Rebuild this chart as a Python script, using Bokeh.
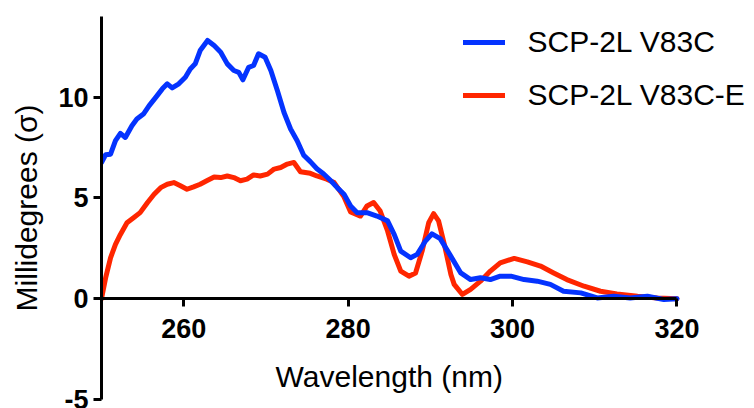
from bokeh.plotting import figure
from bokeh.models import Range1d, FixedTicker, Legend, LegendItem, Label
from bokeh.embed import file_html
from bokeh.resources import INLINE

# Data
blue_x = [250.0, 250.5, 251.1, 251.7, 252.3, 252.9, 253.7, 254.3, 255.1, 255.8,
          256.6, 257.4, 258.0, 258.6, 259.4, 260.2, 260.8, 261.4, 262.0, 262.9,
          263.7, 264.5, 265.3, 266.1, 266.7, 267.2, 267.9, 268.5, 269.1, 269.9,
          270.6, 271.4, 272.2, 273.0, 273.8, 274.6, 275.4, 276.2, 277.0, 277.9,
          278.7, 279.5, 280.3, 281.1, 282.3, 283.5, 284.8, 285.6, 286.4, 287.6,
          288.4, 289.4, 290.2, 291.2, 292.5, 293.7, 294.9, 296.1, 297.3, 298.5,
          299.8, 301.4, 303.0, 304.6, 306.2, 308.3, 310.3, 312.3, 314.3, 316.4,
          318.4, 320.0]
blue_y = [6.76, 7.14, 7.17, 7.84, 8.20, 8.00, 8.58, 8.91, 9.16, 9.58,
          9.99, 10.41, 10.66, 10.46, 10.66, 10.99, 11.40, 11.65, 12.31, 12.81,
          12.56, 12.23, 11.65, 11.32, 11.23, 10.86, 11.48, 11.57, 12.15, 11.98,
          11.32, 10.32, 9.24, 8.42, 7.84, 7.12, 6.80, 6.45, 6.20, 5.85,
          5.50, 5.18, 4.60, 4.27, 4.27, 4.10, 3.86, 3.19, 2.36, 2.03,
          2.20, 2.86, 3.22, 2.98, 2.10, 1.28, 0.95, 1.04, 0.95, 1.12,
          1.12, 0.95, 0.87, 0.71, 0.37, 0.29, 0.04, 0.12, 0.04, 0.12,
          -0.04, 0.00]

red_x = [250.0, 250.5, 251.1, 251.7, 252.3, 253.1, 253.9, 254.7, 255.6, 256.4,
         257.2, 258.0, 258.8, 259.6, 260.4, 261.2, 262.0, 262.8, 263.7, 264.5,
         265.3, 266.1, 266.9, 267.7, 268.5, 269.3, 270.2, 271.0, 271.8, 272.6,
         273.4, 274.2, 275.4, 276.2, 277.4, 278.3, 279.5, 280.3, 281.5, 282.3,
         283.1, 283.9, 284.8, 285.6, 286.4, 287.4, 288.2, 289.0, 289.8, 290.4,
         291.0, 291.7, 292.5, 292.9, 293.9, 294.9, 296.1, 297.3, 298.5, 300.2,
         301.8, 303.4, 305.0, 306.6, 308.7, 310.7, 312.7, 315.2, 317.6, 320.0]
red_y = [0.00, 1.03, 2.03, 2.70, 3.19, 3.77, 4.02, 4.27, 4.77, 5.18,
         5.51, 5.68, 5.76, 5.60, 5.43, 5.55, 5.68, 5.85, 6.04, 6.01,
         6.09, 6.01, 5.85, 5.93, 6.14, 6.09, 6.18, 6.43, 6.51, 6.68,
         6.76, 6.30, 6.22, 6.09, 5.93, 5.76, 5.05, 4.30, 4.10, 4.60,
         4.77, 4.35, 3.36, 2.20, 1.37, 1.12, 1.28, 2.36, 3.77, 4.22,
         3.86, 2.70, 1.20, 0.71, 0.21, 0.46, 0.87, 1.37, 1.78, 2.00,
         1.83, 1.62, 1.28, 0.95, 0.62, 0.37, 0.24, 0.12, 0.04, 0.00]

x_ticks = [260, 280, 300, 320]
y_ticks = [-5, 0, 5, 10]
series_labels = ["SCP-2L V83C", "SCP-2L V83C-E"]

FONT = "Liberation Sans"
BLUE = "#0433FF"
RED = "#FF2600"

p = figure(width=754, height=408, output_backend="svg", toolbar_location=None,
           x_range=Range1d(250, 329.43), y_range=Range1d(-5, 14),
           min_border_left=101, min_border_right=0, min_border_top=16,
           min_border_bottom=9)
p.outline_line_color = None
p.grid.visible = False
p.background_fill_color = "white"
p.border_fill_color = "white"

# Y axis
ya = p.yaxis[0]
ya.ticker = FixedTicker(ticks=y_ticks, minor_ticks=[])
ya.major_label_overrides = {-5: "-5"}
ya.axis_line_width = 3
ya.major_tick_line_width = 3
ya.major_tick_out = 8
ya.major_tick_in = 0
ya.minor_tick_out = 0
ya.minor_tick_in = 0
ya.major_label_text_font = FONT
ya.major_label_text_font_size = "27px"
ya.major_label_text_font_style = "bold"
ya.major_label_text_color = "black"
ya.major_label_standoff = 5
ya.axis_label = "Millidegrees (σ)"
ya.axis_label_text_font = FONT
ya.axis_label_text_font_size = "30px"
ya.axis_label_text_font_style = "normal"
ya.axis_label_text_color = "black"
ya.axis_label_standoff = 12

# X axis crossing at y = 0
xa = p.xaxis[0]
xa.fixed_location = 0
xa.bounds = (250, 320)
xa.ticker = FixedTicker(ticks=x_ticks, minor_ticks=[])
xa.axis_line_width = 3
xa.major_tick_line_width = 3
xa.major_tick_out = 8
xa.major_tick_in = 0
xa.minor_tick_out = 0
xa.minor_tick_in = 0
xa.major_label_text_font = FONT
xa.major_label_text_font_size = "27px"
xa.major_label_text_font_style = "bold"
xa.major_label_text_color = "black"
xa.major_label_standoff = 12

p.add_layout(Label(x=285, y=-3.85, x_units="data", y_units="data",
                   text="Wavelength (nm)", text_align="center",
                   text_baseline="alphabetic", text_font=FONT,
                   text_font_size="30px", text_color="black"))

rr = p.line(red_x, red_y, line_width=5, color=RED, line_join="round", line_cap="round")
rb = p.line(blue_x, blue_y, line_width=5, color=BLUE, line_join="round", line_cap="round")

legend = Legend(items=[LegendItem(label=series_labels[0], renderers=[rb]),
                       LegendItem(label=series_labels[1], renderers=[rr])],
                location=(361.5, 284.5), glyph_width=42, glyph_height=40,
                label_height=40, spacing=13, padding=0, margin=0,
                border_line_color=None, background_fill_alpha=0,
                label_standoff=23, label_text_font=FONT,
                label_text_font_size="30px", label_text_color="black")
p.add_layout(legend)

open("out.html", "w").write(file_html(p, INLINE))
